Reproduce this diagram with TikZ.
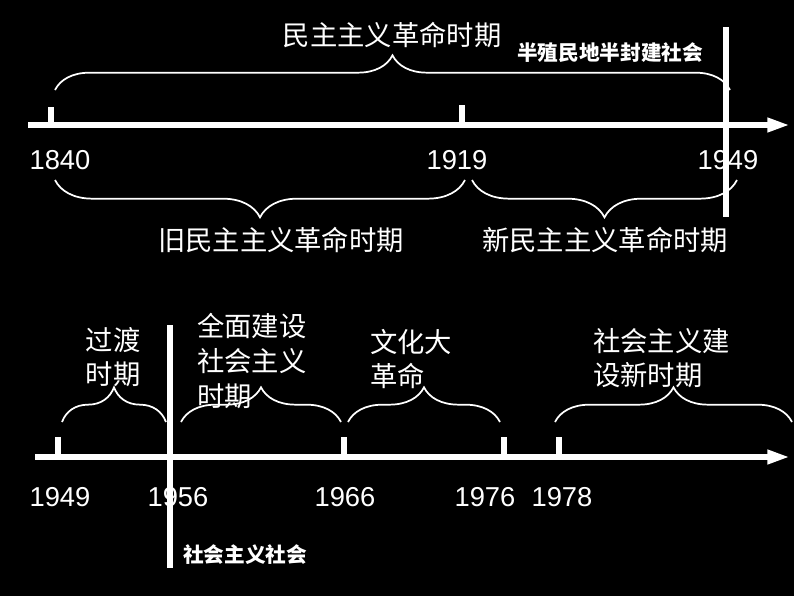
\documentclass[tikz,border=0pt]{standalone}
\usepackage{fontspec}
\setmainfont{Liberation Sans}
\newfontfamily\cjk{Noto Sans CJK SC}
\usetikzlibrary{arrows.meta, decorations.pathreplacing, positioning}

\begin{document}
\begin{tikzpicture}[
  x=0.75pt, y=-0.75pt,
  axis/.style={white, line width=4.5pt, -{Triangle[length=17pt, width=10pt]}},
  tick/.style={white, line width=4.5pt},
  divider/.style={white, line width=5pt},
  brc/.style={white, line width=1.3pt, decorate, decoration={brace, amplitude=#1}},
  brc/.default=26pt,
  brcdown/.style={white, line width=1.3pt, decorate, decoration={brace, mirror, amplitude=28pt}},
  year/.style={text=white, font=\fontsize{20.5}{23}\selectfont, inner sep=0pt},
  era/.style={text=white, font=\cjk\fontsize{20.5}{26}\selectfont, inner sep=0pt, align=left},
  tag/.style={text=white, font=\cjk\bfseries\fontsize{15.5}{18}\selectfont, inner sep=0pt}
]
  \fill[black] (0,0) rectangle (794,596);
  \useasboundingbox (0,0) rectangle (794,596);

  % Top timeline
  \coordinate (a1) at (28,125);
  \coordinate (a2) at (790,125);
  \coordinate (t1840) at (51,125);
  \coordinate (t1840u) at (51,107);
  \coordinate (t1919) at (462,125);
  \coordinate (t1919u) at (462,105);
  \coordinate (d1949a) at (726,27);
  \coordinate (d1949b) at (726,217);
  \draw[axis] (a1) -- (a2);
  \draw[tick] (t1840) -- (t1840u);
  \draw[tick] (t1919) -- (t1919u);

  \node[year] (y1840) at (60,160) {1840};
  \node[year] (y1919) at (457,160) {1919};
  \node[year] (y1949) at (728,160) {1949};

  % Braces, top timeline
  \coordinate (ba1) at (55,90);
  \coordinate (ba2) at (730,90);
  \coordinate (bb1) at (55,180);
  \coordinate (bb2) at (465,180);
  \coordinate (bc1) at (472,180);
  \coordinate (bc2) at (737,180);
  \draw[brc] (ba1) -- (ba2);
  \draw[brcdown] (bb1) -- (bb2);
  \draw[brcdown] (bc1) -- (bc2);

  \node[era] (minzhu) at (392,35) {民主主义革命时期};
  \node[tag] (banzhi) at (610,53) {半殖民地半封建社会};
  \node[era] (jiu) at (281,240) {旧民主主义革命时期};
  \node[era] (xin) at (605,240) {新民主主义革命时期};

  % Bottom timeline
  \coordinate (c1) at (35,457);
  \coordinate (c2) at (790,457);
  \coordinate (d1956a) at (170,325);
  \coordinate (d1956b) at (170,568);
  \draw[axis] (c1) -- (c2);
  \foreach \yr/\xx in {1949/58, 1966/344, 1976/504, 1978/559}
    \draw[tick] (\xx,457) -- (\xx,437);

  \node[year] (z1949) at (60,497) {1949};
  \node[year] (z1956) at (178,497) {1956};
  \node[year] (z1966) at (345,497) {1966};
  \node[year] (z1976) at (485,497) {1976};
  \node[year] (z1978) at (562,497) {1978};

  % Braces, bottom timeline
  \coordinate (e1) at (62,422);
  \coordinate (e2) at (166,422);
  \coordinate (f1) at (181,422);
  \coordinate (f2) at (341,422);
  \coordinate (g1) at (348,422);
  \coordinate (g2) at (500,422);
  \coordinate (h1) at (555,422);
  \coordinate (h2) at (792,422);
  \draw[brc] (e1) -- (e2);
  \draw[brc] (f1) -- (f2);
  \draw[brc] (g1) -- (g2);
  \draw[brc] (h1) -- (h2);

  \node[era, align=center] (guodu) at (113,357) {过渡\\时期};
  \node[era, anchor=west] (quanmian) at (197,361) {全面建设\\社会主义\\时期};
  \node[era, anchor=west] (wenge) at (370,359) {文化大\\革命};
  \node[era, anchor=west] (xinshiqi) at (593,358) {社会主义建\\设新时期};
  \node[tag] (shehui) at (245,555) {社会主义社会};

  % Dividers
  \draw[divider] (d1949a) -- (d1949b);
  \draw[divider] (d1956a) -- (d1956b);
\end{tikzpicture}
\end{document}
